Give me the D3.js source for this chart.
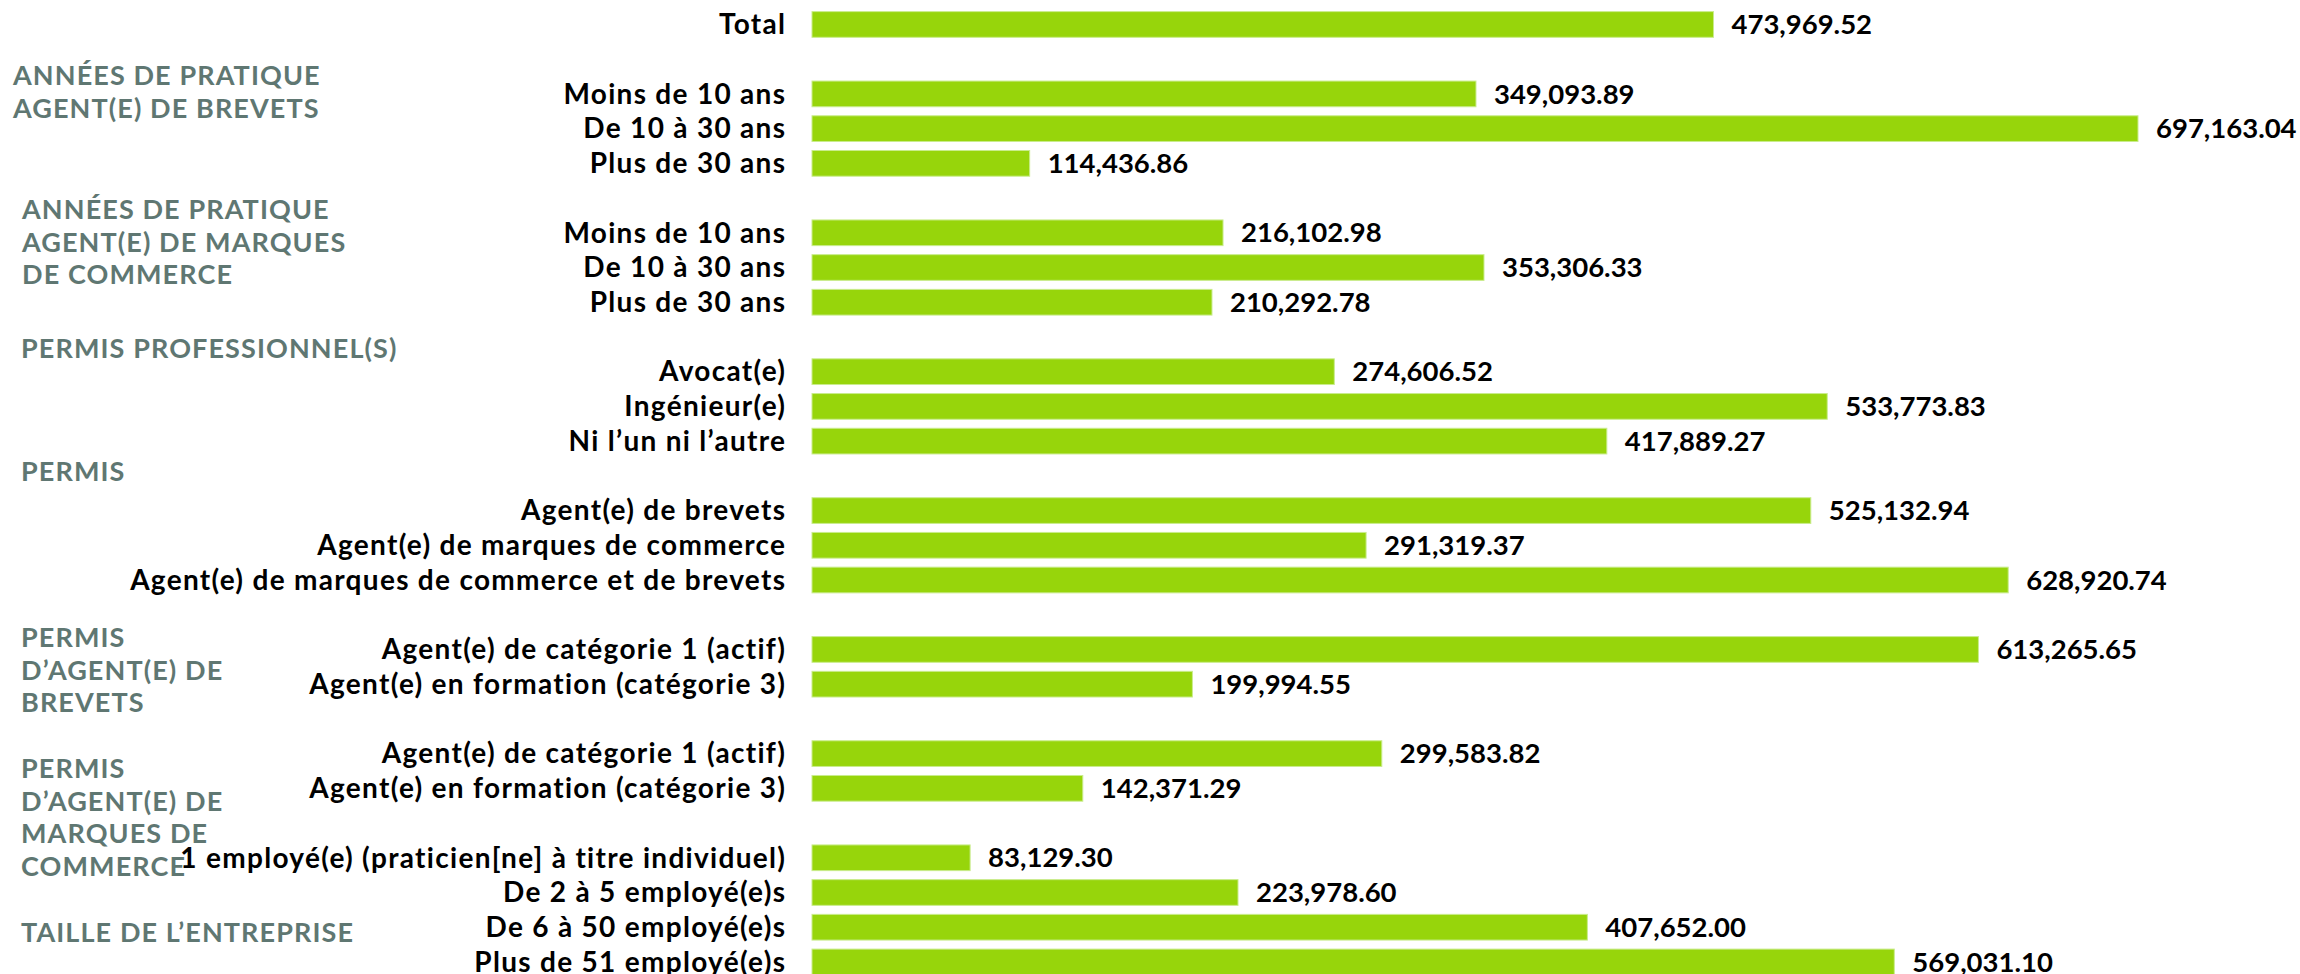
<!DOCTYPE html>
<html lang="fr">
<head>
<meta charset="utf-8">
<title>Rémunération moyenne selon le profil</title>
<script src="https://cdn.jsdelivr.net/npm/d3@7/dist/d3.min.js"></script>
<style>
  html, body { margin: 0; padding: 0; background: #ffffff; }
  svg { display: block; }
</style>
</head>
<body>
<div id="chart"></div>
<script>
// Bar categories, in display order
const categories = [
  "Total",
  "Moins de 10 ans", "De 10 à 30 ans", "Plus de 30 ans",
  "Moins de 10 ans", "De 10 à 30 ans", "Plus de 30 ans",
  "Avocat(e)", "Ingénieur(e)", "Ni l’un ni l’autre",
  "Agent(e) de brevets", "Agent(e) de marques de commerce", "Agent(e) de marques de commerce et de brevets",
  "Agent(e) de catégorie 1 (actif)", "Agent(e) en formation (catégorie 3)",
  "Agent(e) de catégorie 1 (actif)", "Agent(e) en formation (catégorie 3)",
  "1 employé(e) (praticien[ne] à titre individuel)", "De 2 à 5 employé(e)s", "De 6 à 50 employé(e)s", "Plus de 51 employé(e)s"
];

// Group each category belongs to (index into groupTitles)
const categoryGroup = [0, 1, 1, 1, 2, 2, 2, 3, 3, 3, 4, 4, 4, 5, 5, 6, 6, 7, 7, 7, 7];

const values = [
  473969.52,
  349093.89, 697163.04, 114436.86,
  216102.98, 353306.33, 210292.78,
  274606.52, 533773.83, 417889.27,
  525132.94, 291319.37, 628920.74,
  613265.65, 199994.55,
  299583.82, 142371.29,
  83129.30, 223978.60, 407652.00, 569031.10
];

// Group headings, one entry per line
const groupTitles = [
  [],
  ["ANNÉES DE PRATIQUE", "AGENT(E) DE BREVETS"],
  ["ANNÉES DE PRATIQUE", "AGENT(E) DE MARQUES", "DE COMMERCE"],
  ["PERMIS PROFESSIONNEL(S)"],
  ["PERMIS"],
  ["PERMIS", "D’AGENT(E) DE", "BREVETS"],
  ["PERMIS", "D’AGENT(E) DE", "MARQUES DE", "COMMERCE"],
  ["TAILLE DE L’ENTREPRISE"]
];

// ---- layout ----
const W = 2300, H = 974;
const barX0 = 812, barX1 = 2138;
const labelRight = 785;
const headingLayout = [
  null,
  { x: 13, y: 85 },
  { x: 22, y: 219 },
  { x: 21, y: 358 },
  { x: 21, y: 481 },
  { x: 21, y: 647 },
  { x: 21, y: 778 },
  { x: 21, y: 942 }
];
const headingLineHeight = 32.5;

const GREEN = "#97d50b";
const GREY = "#5f7772";

const textFont = "Lato, 'Open Sans', sans-serif";
const catSize = 28, catSpacing = 1.3;
const valSize = 27.5;
const headSize = 27, headSpacing = 1.1;

// Build rows with an empty spacer row between consecutive groups
const rows = [];
categories.forEach((c, i) => {
  if (i > 0 && categoryGroup[i] !== categoryGroup[i - 1]) rows.push({ key: "sp" + i, spacer: true });
  rows.push({ key: "r" + i, label: c, value: values[i], group: categoryGroup[i] });
});

const y = d3.scaleBand()
  .domain(rows.map(r => r.key))
  .range([7.1, 979.3])
  .paddingInner(0.26)
  .paddingOuter(0.13);

const x = d3.scaleLinear()
  .domain([0, d3.max(values)])
  .range([barX0, barX1]);

const fmt = d3.format(",.2f");

const svg = d3.select("#chart").append("svg")
  .attr("width", W)
  .attr("height", H)
  .attr("viewBox", [0, 0, W, H]);

svg.append("rect").attr("width", W).attr("height", H).attr("fill", "#fff");

const dataRows = rows.filter(r => !r.spacer);

// bars
svg.append("g")
  .selectAll("rect")
  .data(dataRows)
  .join("rect")
  .attr("x", x(0))
  .attr("y", d => y(d.key))
  .attr("width", d => x(d.value) - x(0))
  .attr("height", y.bandwidth())
  .attr("fill", GREEN)
  .attr("stroke", "#c9ec8c")
  .attr("stroke-width", 1);

// category labels
svg.append("g")
  .selectAll("text")
  .data(dataRows)
  .join("text")
  .attr("x", labelRight + catSpacing)
  .attr("y", d => y(d.key) + y.bandwidth() / 2)
  .attr("dy", "0.35em")
  .attr("text-anchor", "end")
  .attr("font-family", textFont)
  .attr("font-weight", 700)
  .attr("font-size", catSize)
  .attr("letter-spacing", catSpacing)
  .attr("fill", "#000")
  .text(d => d.label);

// value labels
svg.append("g")
  .selectAll("text")
  .data(dataRows)
  .join("text")
  .attr("x", d => x(d.value) + 18)
  .attr("y", d => y(d.key) + y.bandwidth() / 2)
  .attr("dy", "0.35em")
  .attr("font-family", textFont)
  .attr("font-weight", 700)
  .attr("font-size", valSize)
  .attr("fill", "#000")
  .text(d => fmt(d.value));

// group headings
const headings = svg.append("g");
groupTitles.forEach((lines, gi) => {
  if (!lines.length) return;
  const pos = headingLayout[gi];
  const t = headings.append("text")
    .attr("font-family", textFont)
    .attr("font-weight", 700)
    .attr("font-size", headSize)
    .attr("letter-spacing", headSpacing)
    .attr("fill", GREY);
  lines.forEach((ln, li) => {
    t.append("tspan")
      .attr("x", pos.x)
      .attr("y", pos.y + li * headingLineHeight)
      .text(ln);
  });
});
</script>
</body>
</html>
